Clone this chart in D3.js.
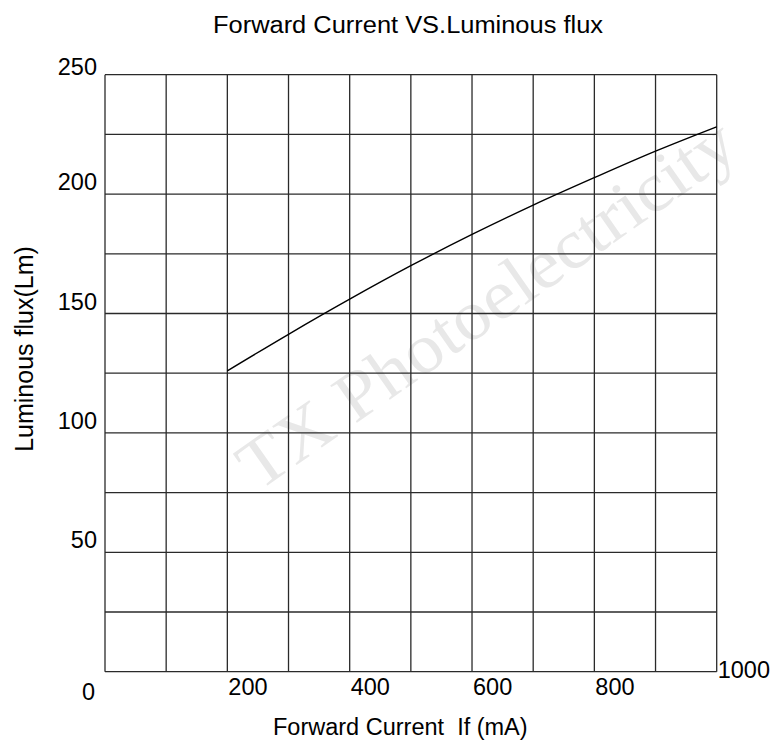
<!DOCTYPE html>
<html>
<head>
<meta charset="utf-8">
<script src="https://cdn.jsdelivr.net/npm/d3@7"></script>
<style>
  body { margin: 0; background: #fff; }
  svg text { font-family: "Liberation Sans", Arial, sans-serif; fill: #000; }
  svg text.wm { font-family: "Liberation Serif", "DejaVu Serif", serif; fill: #e8e8e8; }
</style>
</head>
<body>
<svg></svg>
<script>
// данные кривой: ток (мА) и световой поток (лм)
const currents = [200, 300, 400, 500, 600, 700, 800, 900, 1000];
const flux = [126, 141.3, 156, 170, 183.1, 195.4, 206.9, 218, 228.2];

// подписи осей
const xTickLabels = [0, 200, 400, 600, 800, 1000];
const yTickLabels = [50, 100, 150, 200, 250];
const gridX = d3.range(0, 1001, 100);
const gridY = d3.range(0, 251, 25);

const title = "Forward Current VS.Luminous flux";
const xTitle = "Forward Current  If (mA)";
const yTitle = "Luminous flux(Lm)";

document.addEventListener("DOMContentLoaded", function() {
    const width = 779;
    const height = 740;
    const svg = d3.select("svg")
        .attr("width", width)
        .attr("height", height);

    const left = 105, right = 716.7, top = 74.7, bottom = 671.7;

    const x = d3.scaleLinear().domain([0, 1000]).range([left, right]);
    const y = d3.scaleLinear().domain([0, 250]).range([bottom, top]);

    // водяной знак
    svg.append("text")
        .attr("class", "wm")
        .attr("transform", "translate(258,492) rotate(-35)")
        .attr("textLength", 590)
        .attr("lengthAdjust", "spacingAndGlyphs")
        .style("font-size", "70px")
        .text("TX Photoelectricity");

    // сетка
    const grid = svg.append("g")
        .attr("stroke", "#2a2a2a")
        .attr("stroke-width", 1.3);
    grid.selectAll("line.v")
        .data(gridX)
        .join("line")
        .attr("class", "v")
        .attr("x1", d => x(d)).attr("x2", d => x(d))
        .attr("y1", top).attr("y2", bottom);
    grid.selectAll("line.h")
        .data(gridY)
        .join("line")
        .attr("class", "h")
        .attr("x1", left).attr("x2", right)
        .attr("y1", d => y(d)).attr("y2", d => y(d));

    // кривая
    const pts = currents.map((c, i) => [c, flux[i]]);
    const line = d3.line()
        .x(d => x(d[0]))
        .y(d => y(d[1]))
        .curve(d3.curveMonotoneX);
    svg.append("path")
        .datum(pts)
        .attr("d", line)
        .attr("fill", "none")
        .attr("stroke", "#000")
        .attr("stroke-width", 1.4);

    // подписи по X
    svg.selectAll("text.xt")
        .data(xTickLabels)
        .join("text")
        .attr("class", "xt")
        .attr("x", d => d === 0 ? x(d) - 10 : x(d) + 1)
        .attr("y", d => d === 0 ? 700 : (d === 1000 ? 678 : 695))
        .attr("text-anchor", d => d === 0 ? "end" : "start")
        .style("font-size", "23.5px")
        .text(d => d);

    // подписи по Y
    svg.selectAll("text.yt")
        .data(yTickLabels)
        .join("text")
        .attr("class", "yt")
        .attr("x", 97)
        .attr("y", d => d === 250 ? y(d) : y(d) - 4)
        .attr("text-anchor", "end")
        .style("font-size", "23.5px")
        .text(d => d);

    svg.append("text")
        .attr("x", 213)
        .attr("y", 33)
        .attr("textLength", 390)
        .attr("lengthAdjust", "spacingAndGlyphs")
        .style("font-size", "23px")
        .text(title);

    svg.append("text")
        .attr("x", 273)
        .attr("y", 735)
        .attr("xml:space", "preserve")
        .style("white-space", "pre")
        .style("font-size", "23.5px")
        .text(xTitle);

    svg.append("text")
        .attr("transform", "translate(33,349) rotate(-90)")
        .attr("text-anchor", "middle")
        .style("font-size", "25px")
        .text(yTitle);
});
</script>
</body>
</html>
